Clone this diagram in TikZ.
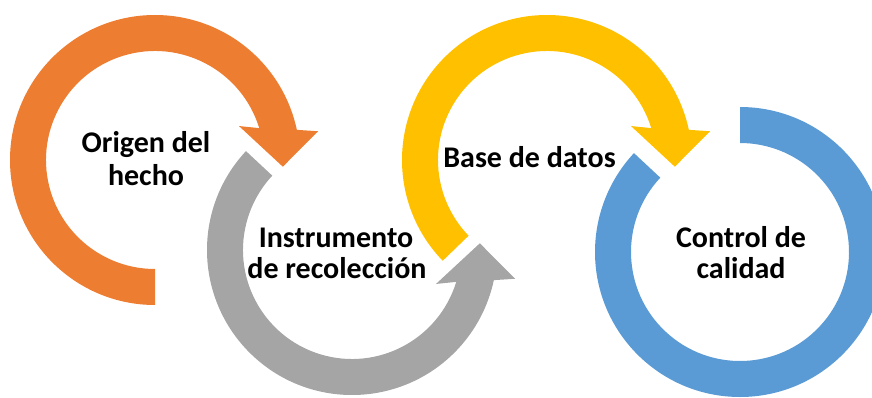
\documentclass[tikz,border=0pt]{standalone}
\usepackage{fontspec}
\setmainfont{Carlito}
\usetikzlibrary{calc}
\definecolor{cOrange}{HTML}{ED7D31}
\definecolor{cGray}{HTML}{A5A5A5}
\definecolor{cYellow}{HTML}{FFC000}
\definecolor{cBlue}{HTML}{5B9BD5}
\tikzset{
  lbl/.style={anchor=base, inner sep=0pt, font=\fontsize{30}{32}\selectfont\bfseries, text=black}
}
\begin{document}
\begin{tikzpicture}[x=1pt,y=1pt]
\useasboundingbox (0,0) rectangle (872,397);
\clip (0,0) rectangle (872,397);
\coordinate (O) at (155,237);
\coordinate (G) at (352,147);
\coordinate (Y) at (547,237);
\coordinate (B) at (740,145);
% orange
\fill[cOrange] ($(O)+(270:145pt)$) arc[start angle=270, end angle=12, radius=145pt]
  -- ($(O)+(10:165.6pt)$) -- ($(O)+(-3:128pt)$) -- ($(O)+(22:90.6pt)$) -- ($(O)+(17:109pt)$)
  arc[start angle=17, end angle=270, radius=109pt] -- cycle;
% gray
\fill[cGray] ($(G)+(137:145pt)$) arc[start angle=137, end angle=348, radius=145pt]
  -- ($(G)+(350:165.6pt)$) -- ($(G)+(363:128pt)$) -- ($(G)+(338:90.6pt)$) -- ($(G)+(343:109pt)$)
  arc[start angle=343, end angle=137, radius=109pt] -- cycle;
% yellow
\fill[cYellow] ($(Y)+(224:145pt)$) arc[start angle=224, end angle=12, radius=145pt]
  -- ($(Y)+(10:165.6pt)$) -- ($(Y)+(-3:128pt)$) -- ($(Y)+(22:90.6pt)$) -- ($(Y)+(17:109pt)$)
  arc[start angle=17, end angle=224, radius=109pt] -- cycle;
% blue
\fill[cBlue] ($(B)+(90:145pt)$) arc[start angle=90, end angle=-223, radius=145pt]
  -- ($(B)+(-223:109pt)$) arc[start angle=-223, end angle=90, radius=109pt] -- cycle;
% labels
\node[lbl] (o1) at (146,244) {Origen del};
\node[lbl] (o2) at (146,212) {hecho};
\node[lbl] (g1) at (336,150) {Instrumento};
\node[lbl] (g2) at (337,119) {de recolección};
\node[lbl] (y1) at (529.5,230) {Base de datos};
\node[lbl] (b1) at (741,150) {Control de};
\node[lbl] (b2) at (741,119) {calidad};
\end{tikzpicture}
\end{document}
